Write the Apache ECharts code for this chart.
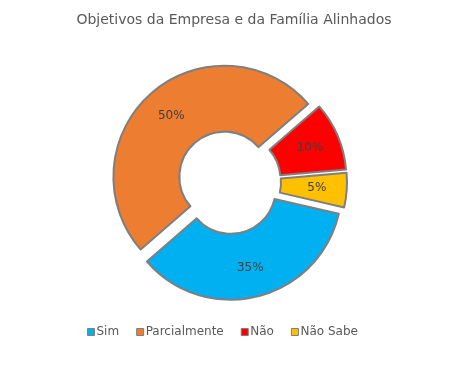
<!DOCTYPE html>
<html><head><meta charset="utf-8">
<script src="https://cdn.jsdelivr.net/npm/echarts@6/dist/echarts.min.js"></script>
<style>html,body{margin:0;padding:0;background:#fff}#c{width:456px;height:367px}</style>
</head><body><div id="c"></div>
<script>
var categories = ['Sim', 'Parcialmente', 'Não', 'Não Sabe'];
var values = [35, 50, 10, 5];
var colors = ['#00B0F0', '#ED7D31', '#FF0000', '#FFC000'];
var titleText = 'Objetivos da Empresa e da Família Alinhados';

var chart = echarts.init(document.getElementById('c'), null, {renderer: 'canvas'});
var data = categories.map(function (name, i) {
  return {name: name, value: values[i], selected: true, itemStyle: {color: colors[i]}};
});
chart.setOption({
  animation: false,
  title: {
    text: titleText, left: 229, textAlign: 'center', top: 8,
    textStyle: {fontFamily: 'DejaVu Sans', fontSize: 14, fontWeight: 'normal', color: '#595959'}
  },
  legend: {
    bottom: 24, left: 82, itemWidth: 7, itemHeight: 7, itemGap: 17,
    icon: 'rect', selectedMode: false,
    itemStyle: {borderColor: '#7F7F7F', borderWidth: 1},
    textStyle: {fontFamily: 'DejaVu Sans', fontSize: 12, color: '#595959', padding: [0, 0, 0, -3]},
    data: categories
  },
  series: [{
    type: 'pie',
    center: [229, 182],
    radius: [45, 111],
    startAngle: -13,
    clockwise: true,
    selectedMode: 'multiple',
    selectedOffset: 7,
    emphasis: {disabled: true},
    itemStyle: {borderColor: '#7F7F7F', borderWidth: 2},
    label: {
      show: true, position: 'inside',
      formatter: function (p) { return p.value + '%'; },
      fontFamily: 'DejaVu Sans', fontSize: 12, color: '#404040'
    },
    labelLine: {show: false},
    data: data
  }]
});
</script></body></html>
